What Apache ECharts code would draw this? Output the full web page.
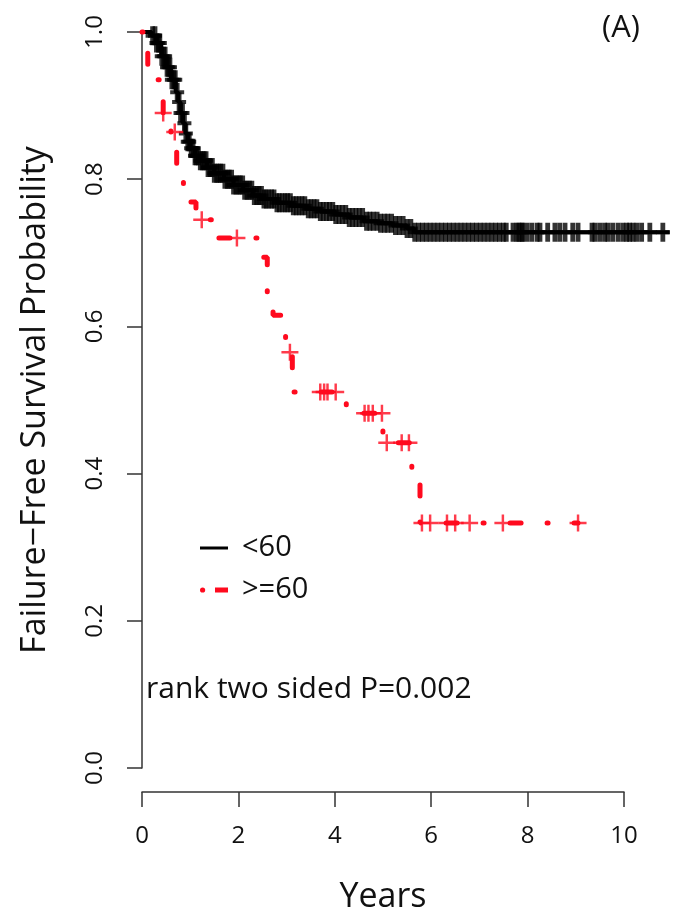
<!DOCTYPE html>
<html><head><meta charset="utf-8">
<script src="https://cdn.jsdelivr.net/npm/echarts@6/dist/echarts.min.js"></script>
<style>html,body{margin:0;padding:0;background:#fff}#c{width:673px;height:919px}</style>
</head><body><div id="c"></div>
<script>
// ---- data ----
const xTickValues = [0, 2, 4, 6, 8, 10];
const yTickValues = [0, 0.2, 0.4, 0.6, 0.8, 1.0];
const groupNames = ['<60', '>=60'];

// <60 group: Kaplan-Meier step times (years) and survival after each step
const youngTimes = [0, 0.2, 0.3, 0.4, 0.5, 0.6, 0.7, 0.75, 0.8, 0.85, 0.9, 0.95, 1.0, 1.1, 1.2, 1.35, 1.5, 1.7, 1.9, 2.1, 2.3, 2.5, 2.8, 3.1, 3.4, 3.7, 4.0, 4.3, 4.6, 4.9, 5.2, 5.5, 5.65];
const youngSurv  = [1, 0.995, 0.985, 0.967, 0.952, 0.935, 0.918, 0.905, 0.89, 0.876, 0.862, 0.851, 0.842, 0.832, 0.825, 0.816, 0.808, 0.8, 0.792, 0.785, 0.778, 0.773, 0.768, 0.764, 0.76, 0.756, 0.752, 0.748, 0.743, 0.74, 0.737, 0.733, 0.728];
const youngEnd = 10.95;
const youngCensor = [0.22, 0.27, 0.3, 0.34, 0.37, 0.41, 0.45, 0.48, 0.52, 0.55, 0.58, 0.62, 0.66, 0.69, 0.73, 0.77, 0.8, 0.84, 0.88, 0.91, 0.95, 0.98,
  1.02, 1.06, 1.1, 1.13, 1.17, 1.21, 1.25, 1.29, 1.33, 1.37, 1.41, 1.46, 1.5, 1.55, 1.59, 1.63, 1.68, 1.72, 1.77, 1.81, 1.86, 1.9, 1.95,
  2.0, 2.04, 2.09, 2.13, 2.18, 2.23, 2.28, 2.33, 2.38, 2.43, 2.48, 2.53, 2.58, 2.63, 2.69, 2.74, 2.8, 2.85, 2.91, 2.97,
  3.02, 3.08, 3.14, 3.2, 3.26, 3.32, 3.38, 3.45, 3.51, 3.57, 3.63, 3.7, 3.76, 3.83, 3.89, 3.96,
  4.02, 4.09, 4.16, 4.23, 4.3, 4.37, 4.44, 4.51, 4.58, 4.66, 4.73, 4.8, 4.88, 4.95,
  5.03, 5.1, 5.18, 5.26, 5.34, 5.42, 5.5, 5.58, 5.66, 5.74, 5.82, 5.9, 5.98,
  6.06, 6.14, 6.22, 6.3, 6.38, 6.46, 6.54, 6.62, 6.7, 6.78, 6.86, 6.94,
  7.02, 7.1, 7.18, 7.26, 7.34, 7.42, 7.5, 7.56,
  7.7, 7.78, 7.82, 7.88, 7.9, 7.99, 8.09, 8.2, 8.26, 8.42, 8.57, 8.67, 8.78, 8.94, 9.05,
  9.34, 9.4, 9.5, 9.6, 9.67, 9.77, 9.88, 9.98, 10.06, 10.12, 10.19, 10.27, 10.37, 10.54, 10.81];

// >=60 group
const oldTimes = [0, 0.12, 0.44, 0.6, 0.72, 0.86, 1.12, 1.58, 2.4, 2.6, 2.72, 2.98, 3.12, 4.24, 5.0, 5.6, 5.77];
const oldSurv  = [1, 0.935, 0.89, 0.864, 0.81, 0.769, 0.745, 0.72, 0.694, 0.64, 0.615, 0.565, 0.511, 0.482, 0.442, 0.405, 0.333];
const oldEnd = 9.05;
const oldCensor = [0.44, 0.68, 1.24, 1.97, 3.07, 3.7, 3.78, 3.85, 4.02, 4.62, 4.7, 4.79, 4.98, 5.08, 5.39, 5.54,
  5.81, 5.98, 6.33, 6.5, 6.8, 7.49, 9.05];

const annotationText = 'rank two sided P=0.002';
const panelLabel = '(A)';
const xTitle = 'Years';
const yTitle = 'Failure\u2212Free Survival Probability';

// ---- helpers ----
function stepData(times, surv, end) {
  const d = times.map((t, i) => [t, surv[i]]);
  d.push([end, surv[surv.length - 1]]);
  return d;
}
function survAt(times, surv, t) {
  let s = surv[0];
  for (let i = 0; i < times.length; i++) { if (times[i] <= t) s = surv[i]; }
  return s;
}
function censorData(ct, times, surv) { return ct.map(t => [t, survAt(times, surv, t)]); }

const plusBlack = 'path://M-2.4,-9.5H2.4V9.5H-2.4Z M-7,-2H7V2H-7Z';
const plusRed = 'path://M-1.3,-9H1.3V9H-1.3Z M-9,-1.3H9V1.3H-9Z';
const font = '"Open Sans", "Liberation Sans", sans-serif';
const axisCol = '#333';

const chart = echarts.init(document.getElementById('c'), null, {renderer: 'canvas'});
chart.setOption({
  animation: false,
  backgroundColor: '#fff',
  textStyle: {fontFamily: font},
  grid: [
    {left: 142, top: 32, width: 530, height: 736},
    {left: 142, top: 32, width: 482, height: 736}
  ],
  xAxis: [
    {gridIndex: 0, type: 'value', min: 0, max: 11, show: false},
    {gridIndex: 1, type: 'value', min: 0, max: 10, interval: 2, position: 'bottom', offset: 30,
     axisLine: {show: true, onZero: false, lineStyle: {color: axisCol, width: 1.5}},
     axisTick: {show: true, inside: false, length: 15, lineStyle: {color: axisCol, width: 1.5}},
     axisLabel: {show: true, margin: 32, fontSize: 24, color: '#111', fontFamily: font,
       customValues: xTickValues, formatter: v => String(v)},
     splitLine: {show: false},
     name: xTitle, nameLocation: 'middle', nameGap: 88,
     nameTextStyle: {fontSize: 34, color: '#111', fontFamily: font}}
  ],
  yAxis: [
    {gridIndex: 0, type: 'value', min: 0, max: 1, interval: 0.2, position: 'left',
     axisLine: {show: true, onZero: false, lineStyle: {color: axisCol, width: 1.5}},
     axisTick: {show: true, inside: false, length: 15, lineStyle: {color: axisCol, width: 1.5}},
     axisLabel: {show: true, rotate: 90, margin: 35, fontSize: 24, color: '#111', fontFamily: font,
       customValues: yTickValues, formatter: v => v.toFixed(1)},
     splitLine: {show: false},
     name: yTitle, nameLocation: 'middle', nameGap: 90,
     nameTextStyle: {fontSize: 34, color: '#111', fontFamily: font}},
    {gridIndex: 1, type: 'value', min: 0, max: 1, show: false}
  ],
  legend: {
    orient: 'vertical', left: 200, top: 533, padding: 0, itemGap: 12,
    itemWidth: 28, itemHeight: 6,
    textStyle: {fontSize: 29, color: '#111', fontFamily: font, lineHeight: 30, padding: [0, 0, 0, 9]},
    data: [
      {name: groupNames[0], icon: 'path://M0,0H0.01V0.01H0Z M0,1.5H28V4.5H0Z M27.99,5.99H28V6H27.99Z', itemStyle: {color: '#000'}},
      {name: groupNames[1], icon: 'path://M0,0H0.01V0.01H0Z M0,3A2.6,2.6 0 1,0 5.2,3A2.6,2.6 0 1,0 0,3Z M15,0.5H28V5.5H15Z M27.99,5.99H28V6H27.99Z', itemStyle: {color: '#ff0a1e'}}
    ]
  },
  graphic: [
    {type: 'text', left: 146, top: 674, style: {text: annotationText, fontSize: 30, fill: '#111', fontFamily: font}},
    {type: 'text', left: 602, top: 13, style: {text: panelLabel, fontSize: 31, fill: '#111', fontFamily: font}}
  ],
  series: [
    {name: groupNames[0], type: 'line', step: 'end', xAxisIndex: 0, yAxisIndex: 0,
     data: stepData(youngTimes, youngSurv, youngEnd), showSymbol: false, clip: false,
     lineStyle: {color: '#000', width: 4}, itemStyle: {color: '#000'}, z: 2},
    {name: groupNames[0] + ' censored', type: 'scatter', xAxisIndex: 0, yAxisIndex: 0,
     data: censorData(youngCensor, youngTimes, youngSurv), symbol: plusBlack, symbolSize: [14, 19], clip: false,
     itemStyle: {color: '#000'}, z: 3},
    {name: groupNames[1], type: 'line', step: 'end', xAxisIndex: 0, yAxisIndex: 0,
     data: stepData(oldTimes, oldSurv, oldEnd), showSymbol: false, clip: false,
     lineStyle: {color: '#ff0a1e', width: 5, type: [1, 26, 11, 26], cap: 'round'}, itemStyle: {color: '#ff0a1e'}, z: 4},
    {name: groupNames[1] + ' censored', type: 'scatter', xAxisIndex: 0, yAxisIndex: 0,
     data: censorData(oldCensor, oldTimes, oldSurv), symbol: plusRed, symbolSize: 17, clip: false,
     itemStyle: {color: '#ff0a1e'}, z: 5}
  ]
});
</script></body></html>
